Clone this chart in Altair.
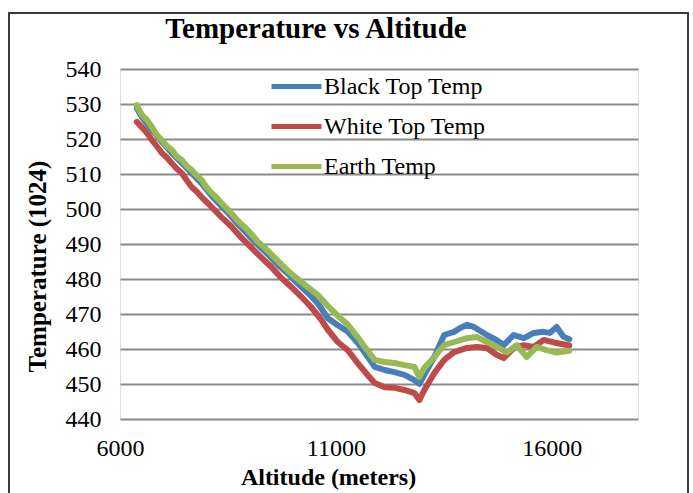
import altair as alt
import pandas as pd

SERIES = ["Black Top Temp", "White Top Temp", "Earth Temp"]
COLORS = ["#4A7EBB", "#BE4B48", "#98B954"]

black_alt = [6390, 6505, 6740, 6970, 7200, 7430, 7660, 7890, 8120, 8350,
             8510, 8740, 8970, 9200, 9430, 9660, 9890, 10125, 10355, 10585,
             10815, 11045, 11275, 11505, 11670, 11900, 12130, 12360, 12590, 12820,
             12935, 13050, 13280, 13510, 13740, 13880, 14040, 14200, 14500, 14730,
             14890, 15120, 15355, 15585, 15815, 15955, 16115, 16275, 16410]
black_temp = [528.8, 526.3, 522.6, 519.2, 516.0, 513.2, 510.2, 507.3, 503.8, 500.8,
              498.8, 495.6, 492.6, 489.7, 487.0, 484.0, 481.5, 478.6, 476.0, 473.0,
              468.8, 466.8, 465.0, 461.8, 459.0, 454.9, 454.0, 453.4, 452.6, 451.1,
              450.0, 452.6, 457.7, 464.0, 464.9, 466.0, 466.9, 466.3, 464.0, 462.5,
              461.1, 464.0, 463.1, 464.6, 464.9, 464.6, 466.3, 463.5, 462.8]

white_alt = [6390, 6505, 6620, 6740, 6850, 6970, 7085, 7200, 7315, 7430,
             7545, 7660, 7775, 7890, 8005, 8120, 8350, 8580, 8810, 9040,
             9270, 9500, 9730, 9960, 10195, 10425, 10655, 10815, 11045, 11275,
             11505, 11735, 11900, 12130, 12360, 12590, 12820, 12935, 13050, 13280,
             13510, 13740, 14040, 14270, 14500, 14730, 14890, 15125, 15355, 15585,
             15815, 16115, 16410]
white_temp = [524.9, 523.4, 521.8, 519.7, 518.0, 516.0, 514.7, 513.1, 511.5, 510.3,
              508.2, 506.3, 505.0, 503.4, 502.0, 500.6, 497.7, 495.0, 491.8, 489.0,
              486.2, 483.5, 480.4, 477.8, 475.0, 472.0, 468.5, 465.5, 462.0, 459.7,
              456.0, 452.6, 450.3, 449.1, 448.9, 448.3, 447.4, 445.4, 448.3, 453.1,
              456.9, 459.1, 460.3, 460.6, 460.3, 458.3, 457.4, 460.3, 461.1, 460.6,
              462.6, 461.7, 461.0]

earth_alt = [6390, 6505, 6620, 6740, 6850, 6970, 7085, 7200, 7315, 7430,
             7545, 7660, 7775, 7890, 8005, 8120, 8235, 8350, 8510, 8740,
             8970, 9200, 9430, 9660, 9890, 10125, 10355, 10585, 10815, 11045,
             11275, 11505, 11670, 11900, 12130, 12360, 12590, 12820, 12935, 13050,
             13280, 13510, 13740, 14040, 14270, 14500, 14730, 14960, 15190, 15420,
             15655, 15885, 16115, 16410]
earth_temp = [529.7, 526.9, 525.5, 523.4, 521.2, 519.7, 518.0, 516.9, 515.0, 514.0,
              512.3, 511.1, 509.6, 508.3, 506.2, 504.6, 503.3, 501.7, 499.7, 496.5,
              493.8, 490.6, 488.0, 485.1, 482.3, 479.9, 477.6, 475.4, 472.3, 469.5,
              467.0, 463.4, 460.6, 456.9, 456.3, 456.0, 455.4, 454.9, 452.0, 454.6,
              457.7, 461.1, 462.0, 463.1, 463.4, 462.0, 460.6, 459.0, 461.1, 457.7,
              460.6, 459.7, 459.0, 459.5]

X_TICKS = [6000, 11000, 16000]
Y_TICKS = [440, 450, 460, 470, 480, 490, 500, 510, 520, 530, 540]

SERIF = "Liberation Serif"

def frame(name, xs, ys):
    return pd.DataFrame({"alt": xs, "temp": ys, "series": [name] * len(xs)})

x_enc = alt.X("alt:Q", scale=alt.Scale(domain=[6000, 18000], nice=False, zero=False),
              axis=alt.Axis(values=X_TICKS, title="Altitude (meters)", grid=False, ticks=False,
                            domain=False, labelFont=SERIF, labelFontSize=24, labelColor="black",
                            labelPadding=17, labelFlush=False, format="d",
                            titleFont=SERIF, titleFontSize=24, titleFontWeight="bold",
                            titleColor="black", titleX=208, titleY=65,
                            titleBaseline="alphabetic", titleAlign="center"))
y_enc = alt.Y("temp:Q", scale=alt.Scale(domain=[440, 540], nice=False, zero=False),
              axis=alt.Axis(values=Y_TICKS, title="Temperature (1024)", grid=True,
                            gridColor="#8a8a8a", gridWidth=2, ticks=False, domain=False,
                            labelFont=SERIF, labelFontSize=24, labelColor="black",
                            labelPadding=19, labelFlush=False,
                            titleFont=SERIF, titleFontSize=25, titleFontWeight="bold",
                            titleColor="black", titleX=-83, titleY=197, titleAngle=270,
                            titleBaseline="middle", titleAlign="center"))
color_enc = alt.Color("series:N",
                      scale=alt.Scale(domain=SERIES, range=COLORS),
                      legend=alt.Legend(orient="none", legendX=149, legendY=-10, title=None,
                                        symbolType="stroke", symbolStrokeWidth=5,
                                        symbolSize=2500, labelFont=SERIF, labelFontSize=24,
                                        labelColor="black", rowPadding=-11, labelOffset=0,
                                        padding=0, labelLimit=400))

border = alt.Chart(pd.DataFrame({"k": [0]})).mark_rect(
    filled=False, stroke="#3a3a3a", strokeWidth=2
).encode(x=alt.value(-111), x2=alt.value(568), y=alt.value(-56), y2=alt.value(460))

layers = [border]
for name, xs, ys in [(SERIES[0], black_alt, black_temp),
                     (SERIES[1], white_alt, white_temp),
                     (SERIES[2], earth_alt, earth_temp)]:
    layers.append(
        alt.Chart(frame(name, xs, ys)).mark_line(strokeWidth=6, strokeJoin="round",
                                                 strokeCap="round")
        .encode(x=x_enc, y=y_enc, color=color_enc, order="alt:Q")
    )

chart = alt.layer(*layers).properties(
    width=518, height=350,
    title=alt.TitleParams("Temperature vs Altitude", font=SERIF, fontSize=29,
                          fontWeight="bold", color="black", anchor="middle",
                          frame="group", dx=-63, dy=40, offset=8),
    autosize=alt.AutoSizeParams(type="none"),
    padding={"left": 120, "top": 69, "right": 55, "bottom": 74},
).configure_view(fill="#D9D9D9", stroke="#8c8c8c", strokeWidth=2
).configure(background="white")

chart.save("out.html", embed_options={"renderer": "svg", "actions": False})
